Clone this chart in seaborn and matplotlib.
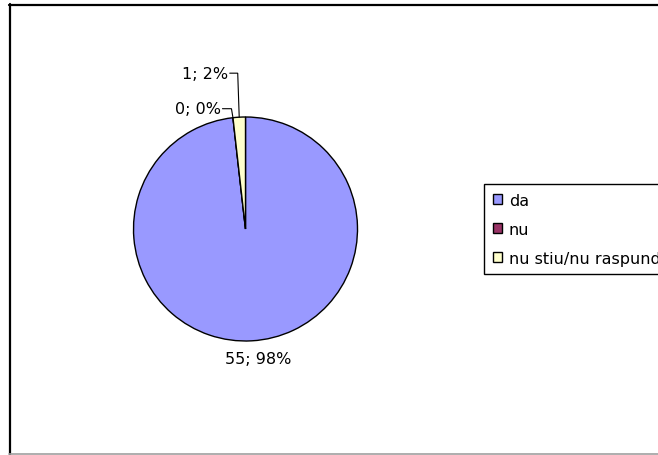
import numpy as np
import matplotlib
matplotlib.use("Agg")
import matplotlib.pyplot as plt
import seaborn as sns
from matplotlib.lines import Line2D

# ---- data ----
categories = ["da", "nu", "nu stiu/nu raspund"]
counts = [55, 0, 1]
percent_labels = ["98%", "0%", "2%"]
colors = ["#9999FF", "#993366", "#FFFFCC"]

sns.set_theme(style="white")
plt.rcParams["font.family"] = ["DejaVu Sans"]
plt.rcParams["text.color"] = "black"
FS = 11.5

W, H = 658, 456
fig = plt.figure(figsize=(W / 100, H / 100), dpi=100)
fig.patch.set_facecolor("white")
ax = fig.add_axes([0, 0, 1, 1])

cx, cy, R = 245.5, H - 230, 112
wedges, _ = ax.pie(counts, colors=colors, startangle=90, counterclock=False,
                   center=(cx, cy), radius=R,
                   wedgeprops=dict(edgecolor="black", linewidth=1.0))
ax.set_xlim(0, W)
ax.set_ylim(0, H)
ax.set_aspect("equal")
ax.axis("off")

def edge_point(w, frac=0.5):
    t1, t2 = w.theta1, w.theta2
    a = np.deg2rad(t1 + (t2 - t1) * frac)
    return cx + R * np.cos(a), cy + R * np.sin(a)

# label texts
texts = [f"{c}; {p}" for c, p in zip(counts, percent_labels)]

# big slice label below
px, py = edge_point(wedges[0])
ax.text(px + 6, py - 18, texts[0], ha="center", va="center", fontsize=FS, color="black")

# small slices with leader lines
offsets = {1: (-12, 9), 2: (-11, 44)}
for i, (dx, dy) in offsets.items():
    px, py = edge_point(wedges[i])
    tx, ty = px + dx, py + dy
    ax.text(tx, ty, texts[i], ha="right", va="center", fontsize=FS, color="black")
    ax.plot([tx + 1.5, px - 1.5, px], [ty, ty, py], color="black", lw=0.8,
            solid_joinstyle="miter")

# legend
handles = [plt.Rectangle((0, 0), 1, 1, facecolor=c, edgecolor="black", linewidth=1.0)
           for c in colors]
leg = ax.legend(handles, categories, loc="upper left",
                bbox_to_anchor=(484 / W, 1 - 185 / H), bbox_transform=fig.transFigure,
                borderaxespad=0, frameon=True, fancybox=False, fontsize=FS,
                handlelength=0.55, handleheight=0.55, handletextpad=0.45,
                labelspacing=0.87, borderpad=0.55, labelcolor="black")
leg.get_frame().set_edgecolor("black")
leg.get_frame().set_linewidth(1.0)
leg.get_frame().set_alpha(1)

# outer chart-area frame
fig.add_artist(Line2D([9.5 / W, 9.5 / W], [0, 1 - 5 / H], transform=fig.transFigure,
                      color="black", lw=1.6))
fig.add_artist(Line2D([9 / W, 1], [1 - 5.5 / H, 1 - 5.5 / H], transform=fig.transFigure,
                      color="black", lw=1.6))
fig.add_artist(Line2D([9 / W, 1], [1.5 / H, 1.5 / H], transform=fig.transFigure,
                      color="#a0a0a0", lw=1.2))

fig.savefig("out.png", dpi=100, facecolor="white")
